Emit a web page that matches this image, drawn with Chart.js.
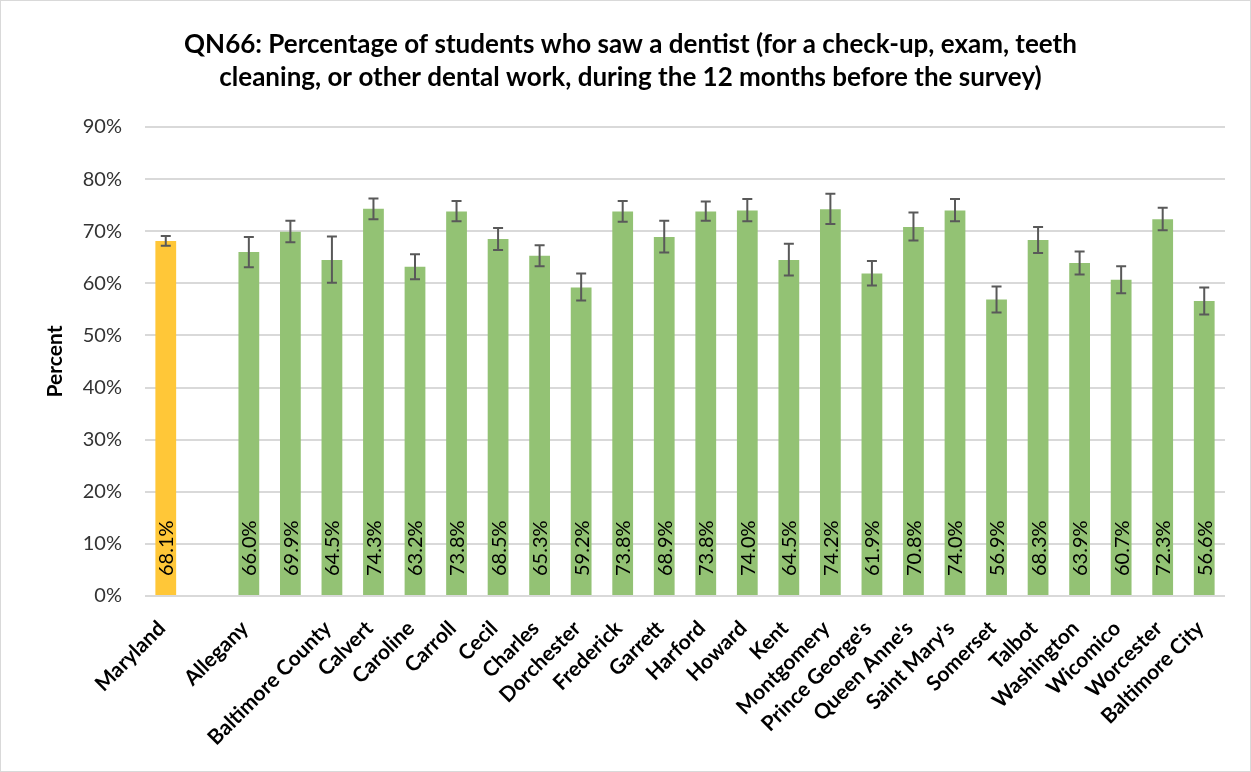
<!DOCTYPE html>
<html>
<head>
<meta charset="utf-8">
<script src="https://cdn.jsdelivr.net/npm/chart.js@4"></script>
<style>
  html, body { margin: 0; padding: 0; background: #fff; }
  #wrap { position: relative; width: 1249px; height: 770px; border: 1px solid #d9d9d9; }
</style>
</head>
<body>
<div id="wrap"><canvas id="chart"></canvas></div>
<script>
const categories = ['Maryland', '', 'Allegany', '', 'Baltimore County', 'Calvert', 'Caroline', 'Carroll', 'Cecil', 'Charles',
    'Dorchester', 'Frederick', 'Garrett', 'Harford', 'Howard', 'Kent', 'Montgomery', "Prince George's", "Queen Anne's",
    "Saint Mary's", 'Somerset', 'Talbot', 'Washington', 'Wicomico', 'Worcester', 'Baltimore City']
const values = [68.1, null, 66.0, 69.9, 64.5, 74.3, 63.2, 73.8, 68.5, 65.3, 59.2, 73.8, 68.9, 73.8, 74.0, 64.5, 74.2,
    61.9, 70.8, 74.0, 56.9, 68.3, 63.9, 60.7, 72.3, 56.6]
const lower = [67.2, null, 63.1, 67.9, 60.1, 72.3, 60.8, 71.9, 66.4, 63.3, 56.7, 71.8, 65.9, 72.0, 71.9, 61.5, 71.4,
    59.6, 68.2, 71.9, 54.4, 65.8, 61.7, 58.1, 70.2, 54.0]
const upper = [69.1, null, 68.9, 72.0, 69.0, 76.3, 65.6, 75.8, 70.6, 67.3, 61.9, 75.8, 72.0, 75.7, 76.2, 67.6, 77.2,
    64.3, 73.6, 76.2, 59.4, 70.8, 66.1, 63.3, 74.5, 59.2]
const yTicks = [0, 10, 20, 30, 40, 50, 60, 70, 80, 90]

const titleLines = [
    'QN66: Percentage of students who saw a dentist (for a check-up, exam, teeth',
    'cleaning, or other dental work, during the 12 months before the survey)',
]

const fontFamily = 'Lato, "Liberation Sans", sans-serif'

let barColors = values.map((v, i) => i === 0 ? '#ffc738' : '#93c274')

// error bars + rotated value labels, drawn from the scales
const extrasPlugin = {
    id: 'extras',
    afterDatasetsDraw(chart) {
        const ctx = chart.ctx
        const meta = chart.getDatasetMeta(0)
        const y = chart.scales.y

        meta.data.forEach((bar, i) => {
            if (values[i] === null) return

            // value label
            ctx.save()
            ctx.translate(bar.x, y.getPixelForValue(0) - 20)
            ctx.rotate(-Math.PI / 2)
            ctx.fillStyle = '#000'
            ctx.font = `20px ${fontFamily}`
            ctx.textAlign = 'left'
            ctx.textBaseline = 'middle'
            ctx.fillText(values[i].toFixed(1) + '%', 0, 1)
            ctx.restore()

            // error bar
            let top = y.getPixelForValue(upper[i])
            let bottom = y.getPixelForValue(lower[i])
            ctx.save()
            ctx.strokeStyle = '#595959'
            ctx.lineWidth = 2
            ctx.beginPath()
            ctx.moveTo(bar.x, top)
            ctx.lineTo(bar.x, bottom)
            ctx.moveTo(bar.x - 5, top)
            ctx.lineTo(bar.x + 5, top)
            ctx.moveTo(bar.x - 5, bottom)
            ctx.lineTo(bar.x + 5, bottom)
            ctx.stroke()
            ctx.restore()
        })
    },
}

new Chart(document.getElementById('chart'), {
    type: 'bar',
    data: {
        labels: categories,
        datasets: [{
            data: values,
            backgroundColor: barColors,
            borderWidth: 0,
            categoryPercentage: 0.5,
            barPercentage: 1,
        }],
    },
    options: {
        responsive: true,
        maintainAspectRatio: false,
        animation: false,
        layout: {
            padding: { left: 35, right: 25, top: 0, bottom: 0 },
        },
        plugins: {
            legend: { display: false },
            tooltip: { enabled: false },
            title: {
                display: true,
                text: titleLines,
                color: '#000',
                font: { family: fontFamily, size: 26, weight: 'bold', lineHeight: '33px' },
                padding: { top: 27, bottom: 33 },
            },
        },
        scales: {
            x: {
                afterFit(axis) {
                    axis.height = 175
                },
                grid: { display: false, drawTicks: false },
                border: { display: false },
                ticks: {
                    color: '#000',
                    font: { family: fontFamily, size: 21, weight: 'bold' },
                    maxRotation: 45,
                    minRotation: 45,
                    autoSkip: false,
                    padding: 20,
                    labelOffset: -4,
                },
            },
            y: {
                min: 0,
                max: 90,
                afterFit(axis) {
                    axis.width = 109
                },
                afterBuildTicks(axis) {
                    axis.ticks = yTicks.map(v => ({ value: v }))
                },
                grid: { color: '#d9d9d9', lineWidth: 2, drawTicks: false },
                border: { display: false },
                ticks: {
                    color: '#333',
                    font: { family: fontFamily, size: 20 },
                    padding: 23,
                    callback: v => v + '%',
                },
                title: {
                    display: true,
                    text: 'Percent',
                    color: '#000',
                    font: { family: fontFamily, size: 21, weight: 'bold' },
                    padding: { top: 7, bottom: 0 },
                },
            },
        },
    },
    plugins: [extrasPlugin],
})
</script>
</body>
</html>
